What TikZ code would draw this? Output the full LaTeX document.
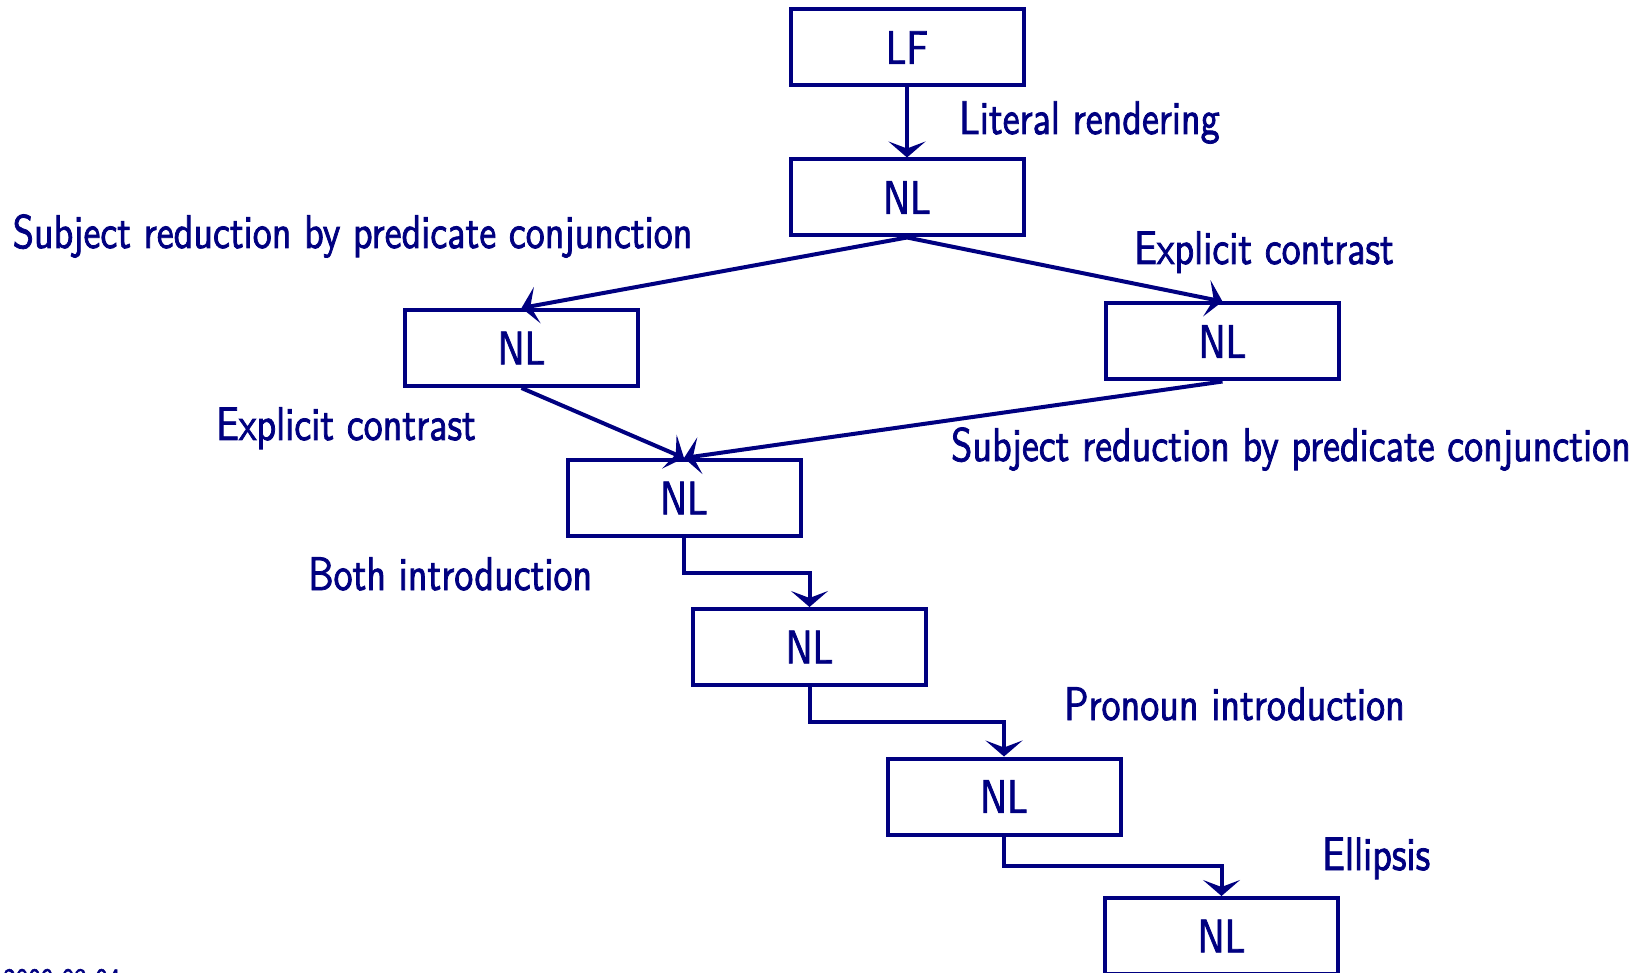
\documentclass[tikz,border=0pt]{standalone}
\usepackage{fontspec}
\setsansfont{lmsans10-regular.otf}[FakeStretch=0.81,FakeBold=1.6]
\usetikzlibrary{arrows.meta,calc}
\definecolor{navy}{RGB}{0,0,128}
\begin{document}
\begin{tikzpicture}[x=1pt,y=-1pt,
  every node/.style={font=\sffamily\fontsize{47}{56}\selectfont, text=navy},
  nlbox/.style={draw=navy, line width=4pt, minimum width=233pt, minimum height=76pt, inner sep=0pt},
  flow/.style={draw=navy, line width=4pt, -{Stealth[length=16pt,width=37pt,inset=7pt]}},
  lbl/.style={anchor=base west, inner sep=0pt}]
\useasboundingbox (0,0) rectangle (1642,973);

% derivation steps
\node[nlbox] (lf)  at (907,47.5)  {LF};
\node[nlbox] (nl1) at (907,197.5) {NL};
\node[nlbox] (nl2) at (521.5,348) {NL};
\node[nlbox] (nl3) at (1222.5,341.5) {NL};
\node[nlbox] (nl4) at (684,498)   {NL};
\node[nlbox] (nl5) at (809.5,647) {NL};
\node[nlbox] (nl6) at (1004,796.5) {NL};
\node[nlbox] (nl7) at (1221.5,936) {NL};

% transformations
\draw[flow] (lf.south) -- (nl1.north);
\draw[flow] (nl1.south) -- (nl2.north);
\draw[flow] (nl1.south) -- (nl3.north);
\draw[flow] (nl2.south) -- (nl4.north);
\draw[flow] (nl3.south) -- (nl4.north);
\draw[flow] (nl4.south) |- ($(nl4.south)!.5!(nl5.north)$) -| (nl5.north);
\draw[flow] (nl5.south) |- ($(nl5.south)!.5!(nl6.north)$) -| (nl6.north);
\draw[flow] (nl6.south) |- ($(nl6.south)!.5!(nl7.north)$) -| (nl7.north);

% rule names
\node[lbl] (t1) at (959,134)  {Literal rendering};
\node[lbl] (t2) at (12.6,248) {Subject reduction by predicate conjunction};
\node[lbl] (t3) at (1134,264) {Explicit contrast};
\node[lbl] (t4) at (216,440)  {Explicit contrast};
\node[lbl] (t5) at (951,461)  {Subject reduction by predicate conjunction};
\node[lbl] (t6) at (308,590)  {Both introduction};
\node[lbl] (t7) at (1064,720) {Pronoun introduction};
\node[lbl] (t8) at (1322,870) {Ellipsis};

% footer date
\node[lbl, font=\sffamily\fontsize{31}{36}\selectfont] (date) at (3,990) {2009-03-04};
\end{tikzpicture}
\end{document}
